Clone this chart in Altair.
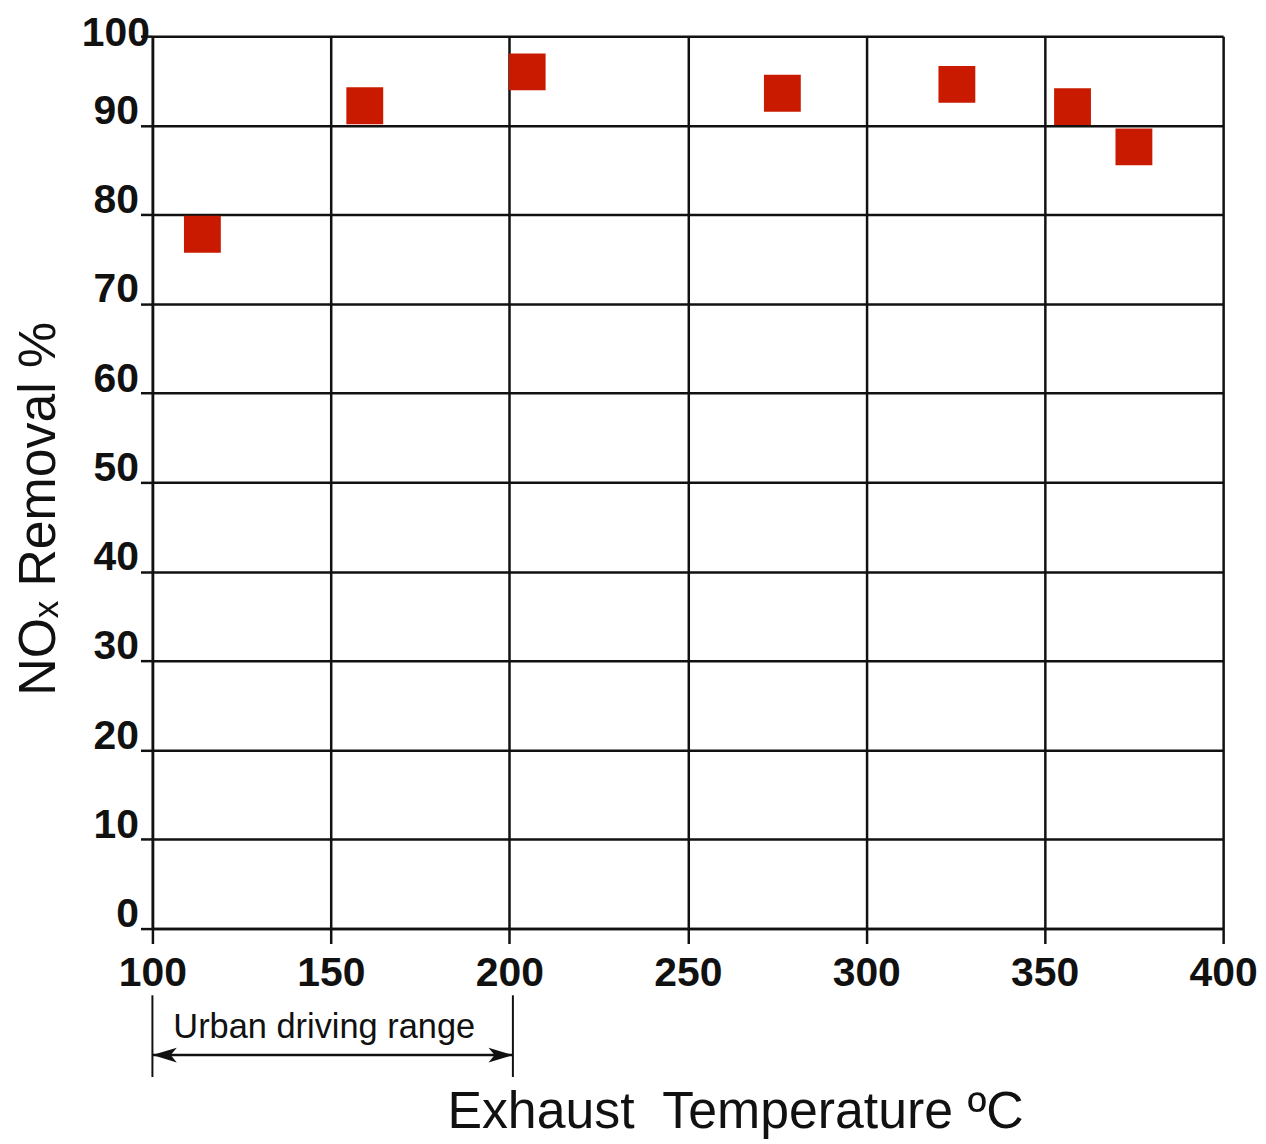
import altair as alt
import pandas as pd

# Data
temperature = [114, 159.5, 205, 276.5, 325.4, 357.8, 375]
nox_removal = [77.8, 92.2, 96.0, 93.6, 94.6, 92.1, 87.6]

x_ticks = [100, 150, 200, 250, 300, 350, 400]
y_ticks = [0, 10, 20, 30, 40, 50, 60, 70, 80, 90, 100]

urban_range = [100, 201]
urban_label = "Urban driving range"

df = pd.DataFrame({"T": temperature, "R": nox_removal})

W, H = 1075, 896
LINE = "#111111"

xscale = alt.Scale(domain=[100, 400], nice=False, zero=False)
yscale = alt.Scale(domain=[0, 100], nice=False, zero=False)

xaxis = alt.Axis(
    values=x_ticks, format="d", grid=True, gridColor=LINE, gridWidth=2.5, gridOpacity=1,
    domainColor=LINE, domainWidth=2.5, tickColor=LINE, tickWidth=2.5, tickSize=15,
    labelFont="Liberation Sans", labelFontWeight="bold", labelFontSize=41, labelColor="#111111",
    labelBaseline="alphabetic", labelPadding=42, labelFlush=False,
    title="Exhaust\u00a0 Temperature ºC", titleFont="Liberation Sans", titleFontWeight="normal",
    titleFontSize=52, titleColor="#111111", titleX=585, titleY=200,
    titleAlign="center", titleBaseline="alphabetic", titleAnchor="start",
)
yaxis = alt.Axis(
    values=y_ticks, format="d", grid=True, gridColor=LINE, gridWidth=2.5, gridOpacity=1,
    domainColor=LINE, domainWidth=2.5, tickColor=LINE, tickWidth=2.5, tickSize=12,
    labelFont="Liberation Sans", labelFontWeight="bold", labelFontSize=41, labelColor="#111111",
    labelBaseline="alphabetic",
    labelPadding={"condition": {"test": "datum.value == 100", "value": -9}, "value": 2},
    labelOffset={"condition": {"test": "datum.value == 100", "value": 9}, "value": -2},
    labelFlush=False,
    title="NOₓ Removal %", titleFont="Liberation Sans", titleFontWeight="normal",
    titleFontSize=52, titleColor="#111111", titleAngle=270, titleX=-98, titleY=474,
    titleAlign="center", titleBaseline="alphabetic", titleAnchor="start",
)

points = alt.Chart(df).mark_point(
    shape="square", filled=True, opacity=1, color="#c91a00", size=1369, clip=False
).encode(
    x=alt.X("T:Q", scale=xscale, axis=xaxis),
    y=alt.Y("R:Q", scale=yscale, axis=yaxis),
)

ann = pd.DataFrame({"x": urban_range})

vlines = alt.Chart(ann).mark_rule(color=LINE, strokeWidth=2, clip=False).encode(
    x=alt.X("x:Q", scale=xscale),
    y=alt.value(963),
    y2=alt.value(1045),
)

arrow_df = pd.DataFrame({"x1": [urban_range[0]], "x2": [urban_range[1]]})
arrow_line = alt.Chart(arrow_df).mark_rule(color=LINE, strokeWidth=2.5, clip=False).encode(
    x=alt.X("x1:Q", scale=xscale),
    x2="x2:Q",
    y=alt.value(1023),
)

left_head = alt.Chart(pd.DataFrame({"x": [urban_range[0]]})).mark_point(
    shape="M0,0L2,-0.6L1.5,0L2,0.6Z", filled=True, opacity=1, color=LINE, size=600, clip=False
).encode(x=alt.X("x:Q", scale=xscale), y=alt.value(1023))

right_head = alt.Chart(pd.DataFrame({"x": [urban_range[1]]})).mark_point(
    shape="M0,0L-2,-0.6L-1.5,0L-2,0.6Z", filled=True, opacity=1, color=LINE, size=600, clip=False
).encode(x=alt.X("x:Q", scale=xscale), y=alt.value(1023))

label = alt.Chart(pd.DataFrame({"x": [urban_range[0]], "t": [urban_label]})).mark_text(
    font="Liberation Sans", fontSize=34.5, color="#111111", align="left",
    baseline="alphabetic", dx=21, clip=False
).encode(x=alt.X("x:Q", scale=xscale), y=alt.value(1006), text="t:N")

chart = alt.layer(points, vlines, arrow_line, left_head, right_head, label).properties(
    width=W, height=H,
    autosize=alt.AutoSizeParams(type="none"),
    padding={"left": 145, "top": 26, "right": 35, "bottom": 212},
    background="white",
).configure_view(stroke=None)

chart.save("out.html", embed_options={"renderer": "svg", "actions": False})
